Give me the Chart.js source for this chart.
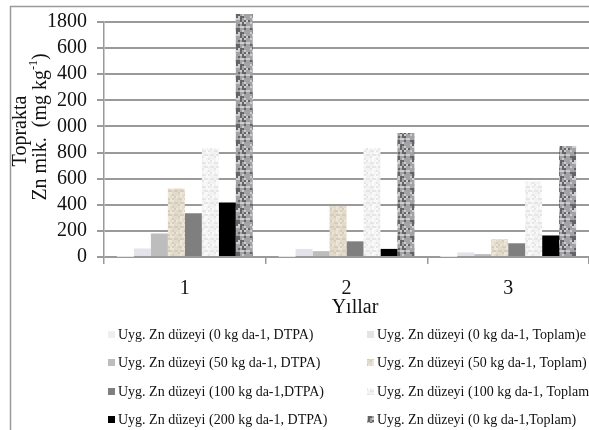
<!DOCTYPE html>
<html>
<head>
<meta charset="utf-8">
<script src="https://cdn.jsdelivr.net/npm/chart.js@4.4.0/dist/chart.umd.min.js"></script>
<style>
  html, body { margin: 0; padding: 0; background: #fff; }
  #wrap { width: 589px; height: 430px; position: relative; }
</style>
</head>
<body>
<div id="wrap"><canvas id="znChart"></canvas></div>
<script>
// years on the x axis
const years = ['1', '2', '3']

// series labels (as printed in the legend)
const seriesNames = [
  'Uyg. Zn düzeyi (0 kg da-1, DTPA)',
  'Uyg. Zn düzeyi (0 kg da-1, Toplam)e',
  'Uyg. Zn düzeyi (50 kg da-1, DTPA)',
  'Uyg. Zn düzeyi (50 kg da-1, Toplam)',
  'Uyg. Zn düzeyi (100 kg da-1,DTPA)',
  'Uyg. Zn düzeyi (100 kg da-1, Toplam',
  'Uyg. Zn düzeyi (200 kg da-1, DTPA)',
  'Uyg. Zn düzeyi (0 kg da-1,Toplam)'
]

// values per series (mg kg-1)
const dtpa0 = [1, 1, 1]
const toplam0 = [65, 62, 35]
const dtpa50 = [180, 45, 22]
const toplam50 = [525, 390, 135]
const dtpa100 = [335, 120, 105]
const toplam100 = [835, 835, 578]
const dtpa200 = [418, 62, 165]
const toplam200 = [1862, 950, 850]

// y tick values and the text shown at them
const yTickValues = [0, 200, 400, 600, 800, 1000, 1200, 1400, 1600, 1800]
const yTickLabels = ['0', '200', '400', '600', '800', '000', '200', '400', '600', '1800']

const SERIF = '"Liberation Serif", "DejaVu Serif", serif'

// small deterministic texture for the "stone" fills
function makeTexture(base, spot, dark, size, dot) {
  const c = document.createElement('canvas')
  c.width = size
  c.height = size
  const g = c.getContext('2d')
  g.fillStyle = base
  g.fillRect(0, 0, size, size)
  for (let y = 0; y < size; y += dot) {
    for (let x = 0; x < size; x += dot) {
      const h = Math.sin(x * 12.9898 + y * 78.233) * 43758.5453
      const f = h - Math.floor(h)
      if (f > 0.7) {
        g.fillStyle = spot
        g.fillRect(x, y, dot, dot)
      } else if (f < 0.22) {
        g.fillStyle = dark
        g.fillRect(x, y, dot, dot)
      }
    }
  }
  return g.createPattern(c, 'repeat')
}

const fills = [
  '#efeff1',
  '#e3e3ea',
  '#bdbdbd',
  makeTexture('#e2dacb', '#d6ccb8', '#ece6da', 12, 2),
  '#7f7f7f',
  makeTexture('#f3f3f3', '#e6e6e6', '#fafafa', 12, 2),
  '#000000',
  makeTexture('#a3a3a6', '#cdcdd0', '#646468', 16, 2)
]

const seriesData = [dtpa0, toplam0, dtpa50, toplam50, dtpa100, toplam100, dtpa200, toplam200]

// frame, y title, x title and the two-column legend
const decorations = {
  id: 'decorations',
  afterDraw(chart) {
    const ctx = chart.ctx
    ctx.save()
    ctx.strokeStyle = '#9a9a9a'
    ctx.lineWidth = 1.5
    ctx.beginPath()
    ctx.moveTo(10.5, 440)
    ctx.lineTo(10.5, 6.5)
    ctx.lineTo(600, 6.5)
    ctx.stroke()

    ctx.fillStyle = '#111'

    // y title (two rotated lines)
    ctx.font = '20px ' + SERIF
    ctx.textBaseline = 'middle'
    ctx.save()
    ctx.translate(21, 131)
    ctx.rotate(-Math.PI / 2)
    ctx.textAlign = 'center'
    ctx.fillText('Toprakta', 0, 0)
    ctx.restore()

    ctx.save()
    ctx.translate(41, 127)
    ctx.rotate(-Math.PI / 2)
    const p1 = 'Zn mik.  (mg kg'
    const p2 = '-1'
    const p3 = ')'
    ctx.font = '20px ' + SERIF
    const w1 = ctx.measureText(p1).width
    const w3 = ctx.measureText(p3).width
    ctx.font = '12px ' + SERIF
    const w2 = ctx.measureText(p2).width
    let x0 = -(w1 + w2 + w3) / 2
    ctx.textAlign = 'left'
    ctx.font = '20px ' + SERIF
    ctx.fillText(p1, x0, 0)
    ctx.font = '12px ' + SERIF
    ctx.fillText(p2, x0 + w1, -7)
    ctx.font = '20px ' + SERIF
    ctx.fillText(p3, x0 + w1 + w2, 0)
    ctx.restore()

    // x title
    ctx.font = '20px ' + SERIF
    ctx.textAlign = 'center'
    ctx.fillText('Yıllar', 355, 308)

    // legend
    ctx.font = '14px ' + SERIF
    ctx.textAlign = 'left'
    const cols = [108, 367]
    const rowY = [335, 363, 392, 420]
    chart.data.datasets.forEach((ds, i) => {
      const cx = cols[i % 2]
      const cy = rowY[Math.floor(i / 2)]
      ctx.fillStyle = ds.backgroundColor
      ctx.fillRect(cx, cy - 4, 7, 7)
      ctx.fillStyle = '#111'
      ctx.fillText(ds.label, cx + 10, cy)
    })
    ctx.restore()
  }
}

new Chart(document.getElementById('znChart'), {
  type: 'bar',
  data: {
    labels: years,
    datasets: seriesNames.map((name, i) => ({
      label: name,
      data: seriesData[i],
      backgroundColor: fills[i],
      borderWidth: 0,
      clip: false
    }))
  },
  options: {
    responsive: true,
    maintainAspectRatio: false,
    animation: false,
    datasets: {
      bar: { barPercentage: 1, categoryPercentage: 0.84 }
    },
    layout: { padding: { top: 20, left: 0, right: 0, bottom: 0 } },
    plugins: {
      legend: { display: false },
      tooltip: { enabled: false },
      title: { display: false }
    },
    scales: {
      x: {
        grid: {
          offset: true,
          drawOnChartArea: false,
          drawTicks: true,
          tickLength: 7,
          color: '#9a9a9a',
          lineWidth: 1.5
        },
        border: { display: false },
        ticks: {
          padding: 13,
          color: '#111',
          font: { family: SERIF, size: 20 }
        },
        afterFit(scale) { scale.height = 173 }
      },
      y: {
        min: 0,
        max: 1800,
        afterBuildTicks(scale) {
          scale.ticks = yTickValues.map(v => ({ value: v }))
        },
        grid: {
          color: '#9a9a9a',
          lineWidth: 2,
          tickLength: 7
        },
        border: { display: true, color: '#9a9a9a', width: 1.5 },
        ticks: {
          autoSkip: false,
          padding: 10,
          color: '#111',
          font: { family: SERIF, size: 20 },
          callback: (v) => yTickLabels[yTickValues.indexOf(v)]
        },
        afterFit(scale) { scale.width = 104 }
      }
    }
  },
  plugins: [decorations]
})
</script>
</body>
</html>
